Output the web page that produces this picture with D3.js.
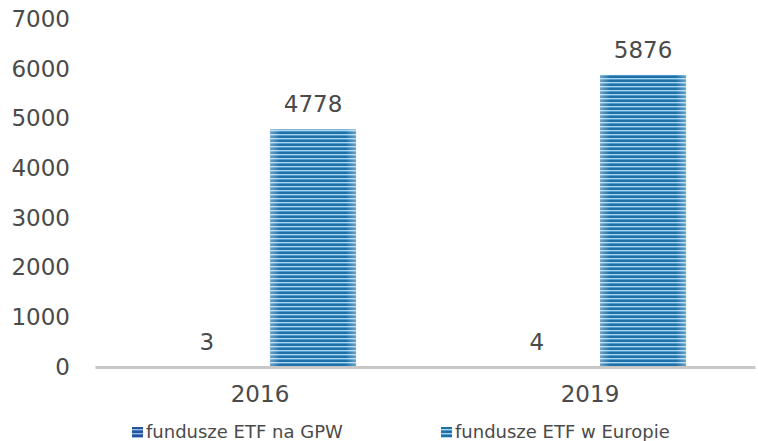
<!DOCTYPE html>
<html lang="pl">
<head>
  <meta charset="UTF-8" />
  <title>Fundusze ETF</title>
  <script src="https://d3js.org/d3.v7.min.js"></script>
  <style>
    body {
      margin: 0;
      background: #fff;
      font-family: "DejaVu Sans", Verdana, sans-serif;
    }
    svg { display: block; }
  </style>
</head>
<body>
  <svg id="chart" width="758" height="441"></svg>

  <script>
    const years = ["2016", "2019"];
    const seriesNames = ["fundusze ETF na GPW", "fundusze ETF w Europie"];
    const gpwValues = [3, 4];
    const europeValues = [4778, 5876];
    const yTicks = [0, 1000, 2000, 3000, 4000, 5000, 6000, 7000];

    const svg = d3.select("#chart");
    const textColor = "#4a4a4a";

    // stripe patterns for the bars
    const defs = svg.append("defs");
    function stripes(id, dark, mid, light) {
      const p = defs.append("pattern")
        .attr("id", id)
        .attr("patternUnits", "userSpaceOnUse")
        .attr("width", 8).attr("height", 4);
      p.append("rect").attr("width", 8).attr("height", 2).attr("fill", dark);
      p.append("rect").attr("y", 2).attr("width", 8).attr("height", 1).attr("fill", light);
      p.append("rect").attr("y", 3).attr("width", 8).attr("height", 1).attr("fill", mid);
    }
    stripes("stripe0", "#24559a", "#4a7cbf", "#9db9e3");
    stripes("stripe1", "#1e70a6", "#4e9acb", "#a8d6f1");

    // soft lighter edges on the bars
    const edge = defs.append("linearGradient").attr("id", "edge");
    edge.append("stop").attr("offset", "0%").attr("stop-color", "#fff").attr("stop-opacity", 0.35);
    edge.append("stop").attr("offset", "12%").attr("stop-color", "#fff").attr("stop-opacity", 0);
    edge.append("stop").attr("offset", "88%").attr("stop-color", "#fff").attr("stop-opacity", 0);
    edge.append("stop").attr("offset", "100%").attr("stop-color", "#fff").attr("stop-opacity", 0.35);

    const plotLeft = 95, plotRight = 755, plotTop = 19, plotBottom = 367;

    const x0 = d3.scaleBand().domain(years).range([plotLeft, plotRight]).padding(0);
    const bw = x0.bandwidth();
    const x1 = d3.scaleBand().domain(seriesNames)
      .range([bw * 0.209, bw * 0.791])
      .paddingInner(0.19);
    const y = d3.scaleLinear().domain([0, 7000]).range([plotBottom, plotTop]);

    const rows = years.map((yr, i) => ({
      year: yr,
      values: [
        { name: seriesNames[0], value: gpwValues[i], k: 0 },
        { name: seriesNames[1], value: europeValues[i], k: 1 }
      ]
    }));

    // y axis labels (no line)
    const yAxis = svg.append("g")
      .attr("transform", "translate(70,0)")
      .call(d3.axisLeft(y).tickValues(yTicks).tickFormat(d3.format("d")).tickSize(0).tickPadding(0));
    yAxis.select(".domain").remove();
    yAxis.selectAll("text")
      .attr("font-family", "DejaVu Sans, sans-serif")
      .attr("font-size", "23px")
      .attr("fill", textColor);

    // bars
    const groups = svg.selectAll("g.year")
      .data(rows)
      .enter().append("g")
      .attr("class", "year")
      .attr("transform", d => `translate(${x0(d.year)},0)`);

    groups.selectAll("rect.bar")
      .data(d => d.values)
      .enter().append("rect")
      .attr("class", "bar")
      .attr("x", d => x1(d.name))
      .attr("y", d => y(d.value))
      .attr("width", x1.bandwidth())
      .attr("height", d => y(0) - y(d.value))
      .attr("fill", d => `url(#stripe${d.k})`);

    groups.selectAll("rect.edge")
      .data(d => d.values)
      .enter().append("rect")
      .attr("class", "edge")
      .attr("x", d => x1(d.name))
      .attr("y", d => y(d.value))
      .attr("width", x1.bandwidth())
      .attr("height", d => y(0) - y(d.value))
      .attr("fill", "url(#edge)");

    groups.selectAll("text.val")
      .data(d => d.values)
      .enter().append("text")
      .attr("class", "val")
      .attr("x", d => x1(d.name) + x1.bandwidth() / 2)
      .attr("y", d => y(d.value) - 17)
      .attr("text-anchor", "middle")
      .attr("font-size", "23px")
      .attr("fill", textColor)
      .text(d => d.value);

    // x axis
    const xAxis = svg.append("g")
      .attr("transform", `translate(0,${plotBottom})`)
      .call(d3.axisBottom(x0).tickSize(0).tickPadding(19));
    xAxis.select(".domain")
      .attr("stroke", "#c8c8c8")
      .attr("stroke-width", 3);
    xAxis.selectAll("text")
      .attr("font-family", "DejaVu Sans, sans-serif")
      .attr("font-size", "23px")
      .attr("fill", textColor);

    // legend
    const legendX = [132, 441];
    const legend = svg.selectAll("g.legend")
      .data(seriesNames)
      .enter().append("g")
      .attr("class", "legend")
      .attr("transform", (d, i) => `translate(${legendX[i]},427)`);
    legend.append("rect")
      .attr("width", 11).attr("height", 11)
      .attr("fill", (d, i) => `url(#stripe${i})`);
    legend.append("text")
      .attr("x", 14)
      .attr("y", 11)
      .attr("font-size", "18px")
      .attr("fill", textColor)
      .text(d => d);
  </script>
</body>
</html>
